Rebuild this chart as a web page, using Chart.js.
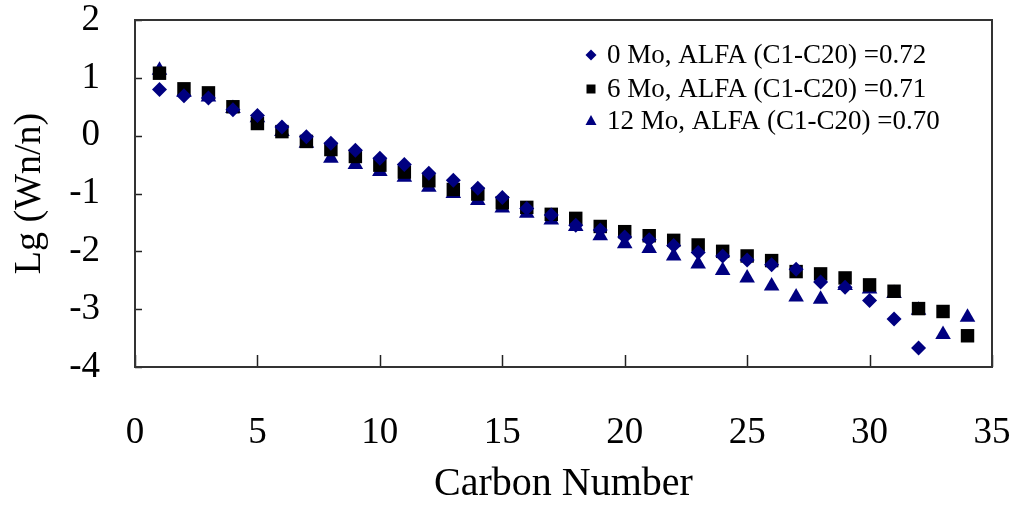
<!DOCTYPE html>
<html>
<head>
<meta charset="utf-8">
<script src="https://cdn.jsdelivr.net/npm/chart.js@4.4.1/dist/chart.umd.min.js"></script>
<style>
  body { margin: 0; background: #fff; }
  #wrap { width: 1012px; height: 506px; }
</style>
</head>
<body>
<div id="wrap"><canvas id="alfaChart"></canvas></div>
<script>
// Carbon numbers C1..C34
const carbon = [1, 2, 3, 4, 5, 6, 7, 8, 9, 10, 11, 12, 13, 14, 15, 16, 17,
                18, 19, 20, 21, 22, 23, 24, 25, 26, 27, 28, 29, 30, 31, 32, 33, 34];

// Lg(Wn/n)
const mo0 = [0.80, 0.69, 0.65, 0.45, 0.35, 0.15, -0.02, -0.13, -0.25, -0.39, -0.50,
             -0.65, -0.77, -0.91, -1.07, -1.26, -1.37, -1.55, -1.63, -1.75, -1.80,
             -1.90, -2.02, -2.08, -2.15, -2.23, -2.31, -2.53, -2.62, -2.85, -3.17, -3.67];
const mo6 = [1.08, 0.81, 0.74, 0.50, 0.21, 0.07, -0.10, -0.24, -0.36, -0.51, -0.63,
             -0.78, -0.93, -1.01, -1.16, -1.24, -1.36, -1.43, -1.57, -1.66, -1.73,
             -1.81, -1.89, -2.00, -2.08, -2.16, -2.35, -2.39, -2.46, -2.58, -2.69,
             -2.99, -3.04, -3.46];
const mo12 = [1.13, 0.75, 0.67, 0.47, 0.31, 0.07, -0.13, -0.39, -0.50, -0.62, -0.72,
              -0.89, -1.00, -1.12, -1.25, -1.34, -1.46, -1.57, -1.73, -1.87, -1.95,
              -2.08, -2.22, -2.33, -2.46, -2.60, -2.79, -2.83, -2.59, -2.65, -2.73,
              -3.02, -3.44, -3.14];

const seriesLabels = ['0 Mo, ALFA (C1-C20) =0.72', '6 Mo, ALFA (C1-C20) =0.71', '12 Mo, ALFA (C1-C20) =0.70'];
const xTicks = [0, 5, 10, 15, 20, 25, 30, 35];
const yTicks = [-4, -3, -2, -1, 0, 1, 2];

const serif = '"Liberation Serif", "Times New Roman", serif';
const navy = '#000080';

function toPoints(values) {
    return values.map((v, i) => ({ x: carbon[i], y: v }));
}

// keep the plot box fixed: no extra room for overhanging tick labels
function noOverhang(s) {
    s.paddingLeft = 0; s.paddingRight = 0; s.paddingTop = 0; s.paddingBottom = 0;
}

// Inward tick marks and plot frame, like the original spreadsheet chart
const framePlugin = {
    id: 'frame',
    afterDatasetsDraw(chart) {
        const { ctx, chartArea: a, scales: { x, y } } = chart;
        ctx.save();
        ctx.strokeStyle = '#222';
        ctx.lineWidth = 1.5;
        xTicks.forEach(t => {
            const px = Math.round(x.getPixelForValue(t)) + 0.5;
            ctx.beginPath();
            ctx.moveTo(px, a.bottom);
            ctx.lineTo(px, a.bottom - 12);
            ctx.stroke();
        });
        yTicks.forEach(t => {
            const py = Math.round(y.getPixelForValue(t)) + 0.5;
            ctx.beginPath();
            ctx.moveTo(a.left, py);
            ctx.lineTo(a.left + 7, py);
            ctx.stroke();
        });
        ctx.lineWidth = 2;
        ctx.strokeStyle = '#333';
        ctx.strokeRect(a.left, a.top, a.right - a.left, a.bottom - a.top);
        ctx.restore();
    }
};

// Legend drawn inside the plot, top right
const legendPlugin = {
    id: 'insideLegend',
    afterDraw(chart) {
        const { ctx } = chart;
        const rows = [55, 89, 121];
        const mx = 591;
        ctx.save();
        ctx.font = '27px ' + serif;
        ctx.textBaseline = 'middle';
        chart.data.datasets.forEach((ds, i) => {
            const cy = rows[i];
            ctx.fillStyle = ds.backgroundColor;
            ctx.beginPath();
            if (ds.pointStyle === 'rectRot') {
                ctx.moveTo(mx, cy - 5.5); ctx.lineTo(mx + 5.5, cy);
                ctx.lineTo(mx, cy + 5.5); ctx.lineTo(mx - 5.5, cy);
            } else if (ds.pointStyle === 'rect') {
                ctx.rect(mx - 4.5, cy - 4.5, 9, 9);
            } else {
                ctx.moveTo(mx, cy - 6); ctx.lineTo(mx + 5.5, cy + 4);
                ctx.lineTo(mx - 5.5, cy + 4);
            }
            ctx.closePath();
            ctx.fill();
            ctx.fillStyle = '#000';
            ctx.fillText(ds.label, 607, cy + 1);
        });
        ctx.restore();
    }
};

const ctx = document.getElementById('alfaChart').getContext('2d');
const alfaChart = new Chart(ctx, {
    type: 'scatter',
    data: {
        datasets: [
            {
                label: seriesLabels[0],
                data: toPoints(mo0),
                pointStyle: 'rectRot',
                pointRadius: 7.5,
                backgroundColor: navy,
                borderColor: navy,
                borderWidth: 0
            },
            {
                label: seriesLabels[1],
                data: toPoints(mo6),
                pointStyle: 'rect',
                pointRadius: 9.5,
                backgroundColor: '#000',
                borderColor: '#000',
                borderWidth: 0
            },
            {
                label: seriesLabels[2],
                data: toPoints(mo12),
                pointStyle: 'triangle',
                pointRadius: 9,
                backgroundColor: navy,
                borderColor: navy,
                borderWidth: 0
            }
        ]
    },
    options: {
        responsive: true,
        maintainAspectRatio: false,
        animation: false,
        layout: { padding: { top: 20, right: 20, left: 0, bottom: 0 } },
        scales: {
            x: {
                type: 'linear',
                min: 0,
                max: 35,
                afterBuildTicks: (s) => { s.ticks = xTicks.map(v => ({ value: v })); },
                afterFit: (s) => { s.height = 139; noOverhang(s); },
                grid: { display: false, drawTicks: false },
                border: { display: false },
                ticks: { color: '#000', font: { family: serif, size: 37 }, padding: 44, maxRotation: 0 },
                title: {
                    display: true,
                    text: 'Carbon Number',
                    color: '#000',
                    font: { family: serif, size: 40, lineHeight: 1 },
                    padding: { top: 0, bottom: 2 }
                }
            },
            y: {
                min: -4,
                max: 2,
                afterBuildTicks: (s) => { s.ticks = yTicks.map(v => ({ value: v })); },
                afterFit: (s) => { s.width = 135; noOverhang(s); },
                grid: { display: false, drawTicks: false },
                border: { display: false },
                ticks: { color: '#000', font: { family: serif, size: 37 }, padding: 35 },
                title: {
                    display: true,
                    text: 'Lg (Wn/n)',
                    color: '#000',
                    font: { family: serif, size: 38, lineHeight: 1 },
                    padding: { top: 11, bottom: 0 }
                }
            }
        },
        plugins: {
            legend: { display: false },
            tooltip: { enabled: false }
        }
    },
    plugins: [framePlugin, legendPlugin]
});
</script>
</body>
</html>
